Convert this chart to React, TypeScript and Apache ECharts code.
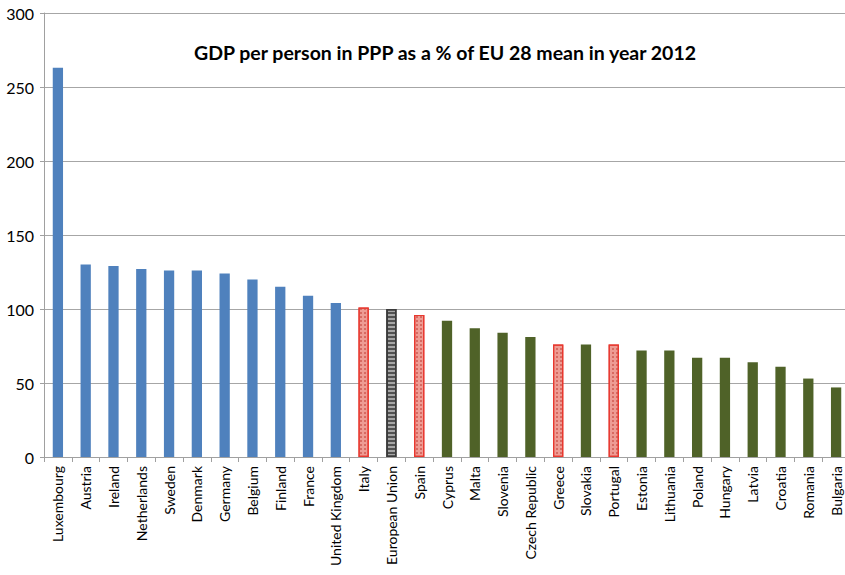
import React, { useEffect, useRef } from "react";
import * as echarts from "echarts";

const countries = [
  "Luxembourg", "Austria", "Ireland", "Netherlands", "Sweden", "Denmark", "Germany",
  "Belgium", "Finland", "France", "United Kingdom", "Italy", "European Union", "Spain",
  "Cyprus", "Malta", "Slovenia", "Czech Republic", "Greece", "Slovakia", "Portugal",
  "Estonia", "Lithuania", "Poland", "Hungary", "Latvia", "Croatia", "Romania", "Bulgaria",
];
const gdpValues = [
  263, 130, 129, 127, 126, 126, 124, 120, 115, 109, 104, 101, 100, 96,
  92, 87, 84, 81, 76, 76, 76, 72, 72, 67, 67, 64, 61, 53, 47,
];
// group: "core" (blue), "south" (red hatched), "eu" (grey), "east" (green)
const groups = [
  "core", "core", "core", "core", "core", "core", "core", "core", "core", "core", "core",
  "south", "eu", "south", "east", "east", "east", "east", "south", "east", "south",
  "east", "east", "east", "east", "east", "east", "east", "east",
];
const yTicks = [0, 50, 100, 150, 200, 250, 300];
const titleText = "GDP per person in PPP as a % of EU 28 mean in year 2012";

const FONT = "Lato, 'Open Sans', sans-serif";

function styleFor(g: string) {
  if (g === "core") return { color: "#4F81BD" };
  if (g === "east") return { color: "#4F6228" };
  if (g === "south")
    return {
      color: "#EE9C94",
      borderColor: "#E8382F",
      borderWidth: 1.2,
      decal: {
        symbol: "rect",
        symbolSize: 1,
        dashArrayX: [2, 2],
        dashArrayY: [2, 2],
        color: "rgba(205,85,75,0.7)",
        rotation: 0,
      },
    };
  return {
    color: "#A6A6A6",
    borderColor: "#3A3A3A",
    borderWidth: 1.5,
    decal: {
      symbol: "rect",
      symbolSize: 1,
      dashArrayX: [1, 0],
      dashArrayY: [1.5, 2],
      color: "rgba(60,60,60,0.8)",
      rotation: 0,
    },
  };
}

export default function App() {
  const ref = useRef<HTMLDivElement>(null);
  useEffect(() => {
    if (!ref.current) return;
    const chart = echarts.init(ref.current, undefined, { renderer: "svg" });
    chart.setOption({
      animation: false,
      backgroundColor: "#ffffff",
      title: {
        text: titleText,
        left: 189,
        top: 37,
        textStyle: { fontFamily: FONT, fontWeight: "bold", fontSize: 19.5, color: "#000" },
      },
      grid: { left: 44, top: 13, bottom: 118, width: 806, containLabel: false, outerBoundsMode: "none" },
      xAxis: {
        type: "category",
        data: countries,
        axisLine: { lineStyle: { color: "#A0A0A0", width: 1 } },
        axisTick: { show: true, length: 5, lineStyle: { color: "#A0A0A0" } },
        axisLabel: {
          rotate: 90,
          interval: 0,
          margin: 9,
          fontFamily: FONT,
          fontSize: 14,
          color: "#000",
        },
      },
      yAxis: {
        type: "value",
        min: 0,
        max: yTicks[yTicks.length - 1],
        interval: 50,
        axisLine: { show: true, lineStyle: { color: "#A0A0A0" } },
        axisTick: { show: true, length: 4, lineStyle: { color: "#A0A0A0" } },
        axisLabel: { fontFamily: FONT, fontSize: 16, color: "#000", margin: 10 },
        splitLine: { lineStyle: { color: "#A6A6A6", width: 1 } },
      },
      series: [
        {
          type: "bar",
          barWidth: "37%",
          data: gdpValues.map((v, i) => ({ value: v, itemStyle: styleFor(groups[i]) })),
        },
      ],
    });
    return () => chart.dispose();
  }, []);
  return (
    <div
      ref={ref}
      style={{ position: "fixed", left: 0, top: 0, width: 845, height: 575, overflow: "hidden" }}
    />
  );
}
